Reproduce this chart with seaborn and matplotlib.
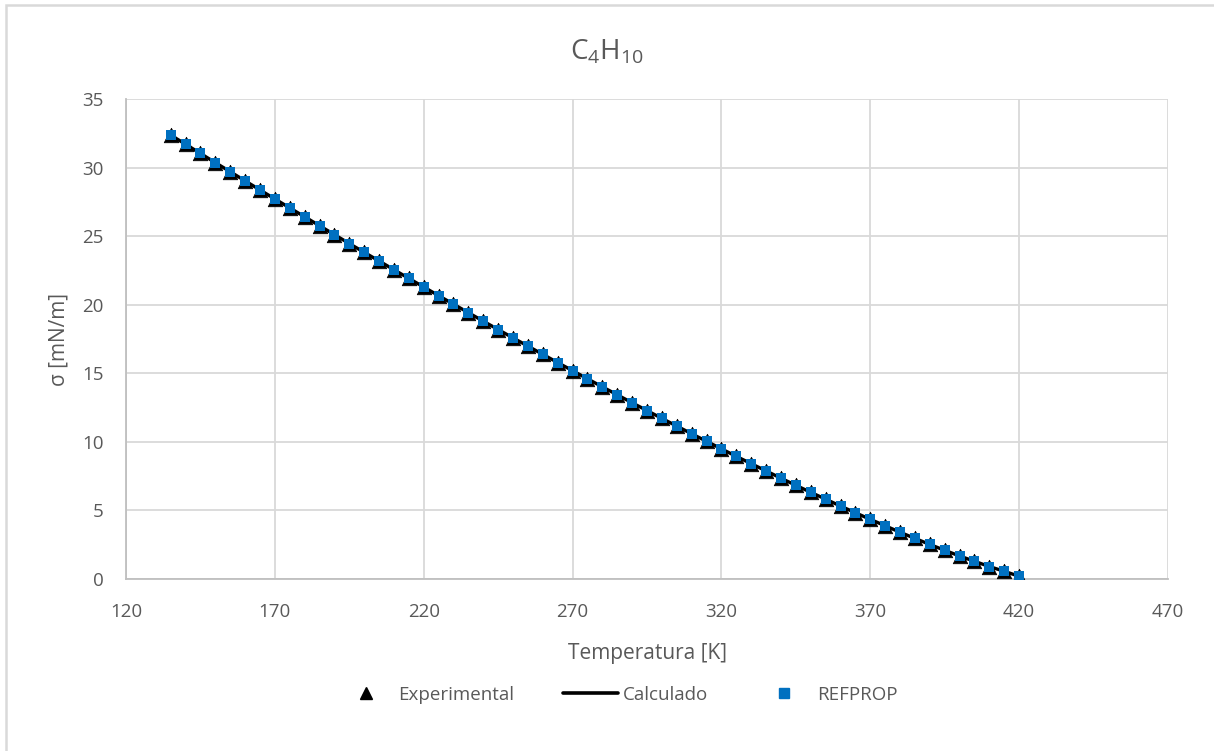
import matplotlib
matplotlib.use("Agg")
import matplotlib.pyplot as plt
from matplotlib.lines import Line2D
from matplotlib.patches import Rectangle
import seaborn as sns
import pandas as pd

temperatura = [135, 140, 145, 150, 155, 160, 165, 170, 175, 180, 185, 190, 195, 200,
               205, 210, 215, 220, 225, 230, 235, 240, 245, 250, 255, 260, 265, 270,
               275, 280, 285, 290, 295, 300, 305, 310, 315, 320, 325, 330, 335, 340,
               345, 350, 355, 360, 365, 370, 375, 380, 385, 390, 395, 400, 405, 410,
               415, 420]
sigma_exp = [32.37, 31.70, 31.03, 30.36, 29.70, 29.03, 28.37, 27.71, 27.06, 26.41,
             25.76, 25.11, 24.46, 23.82, 23.19, 22.55, 21.92, 21.29, 20.66, 20.04,
             19.42, 18.80, 18.19, 17.58, 16.98, 16.38, 15.78, 15.19, 14.60, 14.01,
             13.43, 12.85, 12.28, 11.71, 11.15, 10.59, 10.04, 9.49, 8.94, 8.41,
             7.88, 7.35, 6.83, 6.32, 5.82, 5.32, 4.83, 4.35, 3.88, 3.41,
             2.96, 2.52, 2.09, 1.68, 1.29, 0.91, 0.56, 0.20]
sigma_calc = [32.37, 31.70, 31.03, 30.36, 29.70, 29.03, 28.37, 27.71, 27.06, 26.41,
              25.76, 25.11, 24.46, 23.82, 23.19, 22.55, 21.92, 21.29, 20.66, 20.04,
              19.42, 18.80, 18.19, 17.58, 16.98, 16.38, 15.78, 15.19, 14.60, 14.01,
              13.43, 12.85, 12.28, 11.71, 11.15, 10.59, 10.04, 9.49, 8.94, 8.41,
              7.88, 7.35, 6.83, 6.32, 5.82, 5.32, 4.83, 4.35, 3.88, 3.41,
              2.96, 2.52, 2.09, 1.68, 1.29, 0.91, 0.56, 0.20]
sigma_refprop = [32.37, 31.70, 31.03, 30.36, 29.70, 29.03, 28.37, 27.71, 27.06, 26.41,
                 25.76, 25.11, 24.46, 23.82, 23.19, 22.55, 21.92, 21.29, 20.66, 20.04,
                 19.42, 18.80, 18.19, 17.58, 16.98, 16.38, 15.78, 15.19, 14.60, 14.01,
                 13.43, 12.85, 12.28, 11.71, 11.15, 10.59, 10.04, 9.49, 8.94, 8.41,
                 7.88, 7.35, 6.83, 6.32, 5.82, 5.32, 4.83, 4.35, 3.88, 3.41,
                 2.96, 2.52, 2.09, 1.68, 1.29, 0.91, 0.56, 0.20]
x_ticks = [120, 170, 220, 270, 320, 370, 420, 470]
y_ticks = [0, 5, 10, 15, 20, 25, 30, 35]

sns.set_style("white")
plt.rcParams['font.family'] = ['Open Sans', 'DejaVu Sans']
plt.rcParams['mathtext.default'] = 'regular'

TXT = '#595959'
GRID = '#D9D9D9'
BLUE = '#0070C0'

df = pd.DataFrame({'T': temperatura, 'exp': sigma_exp,
                   'calc': sigma_calc, 'ref': sigma_refprop})

fig = plt.figure(figsize=(12.14, 7.51), dpi=100)
ax = fig.add_axes([126/1214, 1-579/751, (1168-126)/1214, (579-99)/751])

sns.scatterplot(data=df, x='T', y='exp', marker='^', s=110, color='black',
                edgecolor='black', linewidth=0.5, ax=ax, zorder=3)
sns.lineplot(data=df, x='T', y='calc', color='black', linewidth=2.4, ax=ax,
             zorder=4)
sns.scatterplot(data=df, x='T', y='ref', marker='s', s=44, color=BLUE,
                edgecolor=BLUE, linewidth=0, ax=ax, zorder=5)

ax.set_xlim(120, 470)
ax.set_ylim(0, 35)
ax.set_xticks(x_ticks)
ax.set_yticks(y_ticks)
ax.grid(True, color=GRID, linewidth=1.3)
ax.set_axisbelow(True)
for s in ['top', 'right']:
    ax.spines[s].set_visible(False)
for s in ['left', 'bottom']:
    ax.spines[s].set_color('#BFBFBF')
    ax.spines[s].set_linewidth(1.3)
ax.tick_params(axis='x', length=0, labelsize=13.5, colors=TXT, pad=17)
ax.tick_params(axis='y', length=0, labelsize=13.5, colors=TXT, pad=16)
ax.set_xlabel('Temperatura [K]', fontsize=15, color=TXT, labelpad=16)
ax.set_ylabel('σ [mN/m]', fontsize=15, color=TXT, labelpad=9)

fig.text(0.5, 1-52/751, r'C$_4$H$_{10}$', ha='center', va='center',
         fontsize=20, color=TXT)

handles = [
    Line2D([], [], linestyle='none', marker='^', markersize=9, color='black'),
    Line2D([], [], color='black', linewidth=2.6),
    Line2D([], [], linestyle='none', marker='s', markersize=6.5, color=BLUE),
]
leg = fig.legend(handles, ['Experimental', 'Calculado', 'REFPROP'],
                 loc='center', bbox_to_anchor=(618/1214, 1-695/751), ncol=3,
                 frameon=False, fontsize=13.5, columnspacing=2.6,
                 handlelength=2.9, handletextpad=0.3)
for t in leg.get_texts():
    t.set_color(TXT)

fig.patches.append(Rectangle((6/1214, -0.1), 1.2, 1-5/751+0.1,
                             transform=fig.transFigure, fill=False,
                             edgecolor=GRID, linewidth=1.8))

fig.savefig('out.png', dpi=100)
